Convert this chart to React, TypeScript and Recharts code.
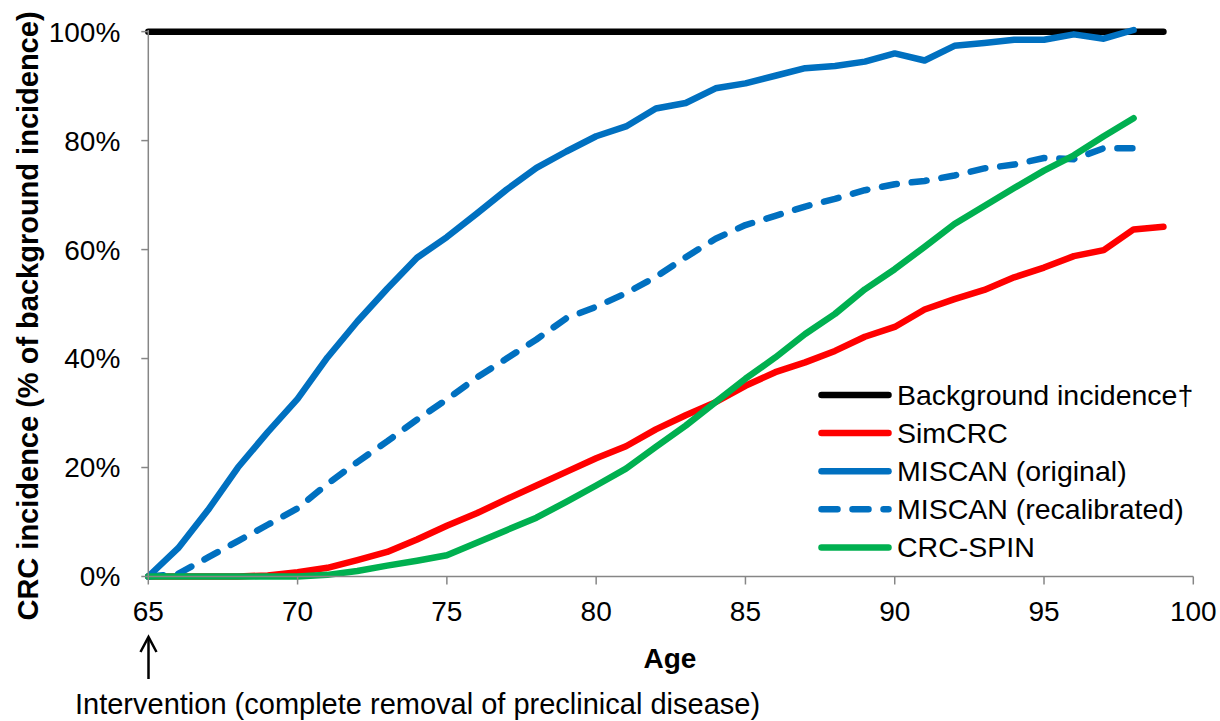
import React from 'react';
import { LineChart, Line, XAxis, YAxis } from 'recharts';

// Age (years) at which cumulative incidence is reported
const ages: number[] = [
  65, 66, 67, 68, 69, 70, 71, 72, 73, 74, 75, 76, 77, 78, 79, 80, 81, 82,
  83, 84, 85, 86, 87, 88, 89, 90, 91, 92, 93, 94, 95, 96, 97, 98, 99,
];

// CRC incidence as % of background incidence, one value per age (null = not reported)
const background: (number | null)[] = [
  100, 100, 100, 100, 100, 100, 100, 100, 100, 100, 100, 100, 100, 100, 100, 100, 100, 100,
  100, 100, 100, 100, 100, 100, 100, 100, 100, 100, 100, 100, 100, 100, 100, 100, 100,
];
const simCRC: (number | null)[] = [
  0, 0, 0, 0, 0.2, 0.8, 1.6, 3, 4.5, 6.8, 9.3, 11.6, 14.2, 16.7, 19.2, 21.7, 23.9, 27,
  29.6, 32, 35, 37.5, 39.3, 41.4, 44, 45.8, 49, 50.9, 52.6, 54.9, 56.7, 58.8, 59.9, 63.7, 64.2,
];
const miscanOriginal: (number | null)[] = [
  0, 5.2, 12.2, 20, 26.5, 32.6, 40.2, 46.8, 52.8, 58.5, 62.3, 66.6, 71, 75, 78, 80.8, 82.6, 85.9,
  86.9, 89.6, 90.5, 91.9, 93.3, 93.7, 94.5, 96, 94.7, 97.4, 97.9, 98.5, 98.5, 99.5, 98.7, 100.3, null,
];
const miscanRecalibrated: (number | null)[] = [
  0, 0.5, 3.5, 6.5, 9.5, 12.5, 17, 21, 24.8, 28.8, 32.5, 36.5, 40, 43.5, 47.4, 49.5, 52, 55,
  58.6, 62, 64.5, 66.2, 67.9, 69.3, 70.9, 72, 72.6, 73.6, 74.9, 75.6, 76.8, 76.6, 78.6, 78.6, null,
];
const crcSpin: (number | null)[] = [
  0, 0, 0, 0, 0, 0, 0.3, 1, 2, 2.9, 3.9, 6.2, 8.5, 10.8, 13.7, 16.7, 19.8, 23.8,
  27.7, 32, 36.3, 40.2, 44.5, 48.2, 52.7, 56.4, 60.5, 64.7, 68, 71.3, 74.5, 77.3, 80.8, 84.1, null,
];

const xTicks: number[] = [65, 70, 75, 80, 85, 90, 95, 100];
const yTicks: number[] = [0, 20, 40, 60, 80, 100];

const seriesNames: string[] = [
  'Background incidence†',
  'SimCRC',
  'MISCAN (original)',
  'MISCAN (recalibrated)',
  'CRC-SPIN',
];
const seriesKeys: string[] = ['background', 'simCRC', 'miscanOriginal', 'miscanRecalibrated', 'crcSpin'];
const seriesColors: string[] = ['#000000', '#FF0000', '#0070C0', '#0070C0', '#00B050'];
const seriesDashed: boolean[] = [false, false, false, true, false];

const rows = ages.map((age, i) => ({
  age,
  background: background[i],
  simCRC: simCRC[i],
  miscanOriginal: miscanOriginal[i],
  miscanRecalibrated: miscanRecalibrated[i],
  crcSpin: crcSpin[i],
}));

const FONT = '"Liberation Sans", Arial, sans-serif';
const AXIS_GRAY = '#868686';
const LINE_W = 6.5;
const DASH = '15 15';

export default function App() {
  return (
    <div
      style={{
        position: 'absolute',
        left: 0,
        top: 0,
        width: 1220,
        height: 721,
        background: '#ffffff',
        fontFamily: FONT,
      }}
    >
      <LineChart
        width={1220}
        height={721}
        data={rows}
        margin={{ top: 30, right: 26.7, bottom: 84.5, left: 0 }}
      >
        <XAxis
          dataKey="age"
          type="number"
          domain={[65, 100]}
          ticks={xTicks}
          height={60}
          axisLine={{ stroke: AXIS_GRAY, strokeWidth: 1.5 }}
          tickLine={{ stroke: AXIS_GRAY, strokeWidth: 1.5 }}
          tickSize={8}
          tickMargin={17}
          tick={{ fill: '#000', fontSize: 28, fontFamily: FONT }}
        />
        <YAxis
          type="number"
          domain={[0, 100]}
          ticks={yTicks}
          width={148.3}
          tickFormatter={(v: number) => `${v}%`}
          axisLine={{ stroke: AXIS_GRAY, strokeWidth: 1.5 }}
          tickLine={{ stroke: AXIS_GRAY, strokeWidth: 1.5 }}
          tickSize={7}
          tickMargin={21}
          tick={{ fill: '#000', fontSize: 28, fontFamily: FONT }}
        />
        {seriesKeys.map((key, i) => (
          <Line
            key={key}
            dataKey={key}
            name={seriesNames[i]}
            type="linear"
            stroke={seriesColors[i]}
            strokeWidth={LINE_W}
            strokeDasharray={seriesDashed[i] ? DASH : undefined}
            strokeLinecap="round"
            strokeLinejoin="round"
            dot={false}
            activeDot={false}
            isAnimationActive={false}
          />
        ))}
      </LineChart>

      <svg
        width={1220}
        height={721}
        style={{ position: 'absolute', left: 0, top: 0, pointerEvents: 'none' }}
      >
        {/* vertical axis title */}
        <text
          x={0}
          y={0}
          transform="translate(38,316) rotate(-90)"
          textAnchor="middle"
          fontFamily={FONT}
          fontWeight="bold"
          fontSize={29}
          fill="#000"
        >
          CRC incidence (% of background incidence)
        </text>

        {/* horizontal axis title */}
        <text x={670} y={668} textAnchor="middle" fontFamily={FONT} fontWeight="bold" fontSize={28} fill="#000">
          Age
        </text>

        {/* intervention marker */}
        <line x1={148.5} y1={637} x2={148.5} y2={679} stroke="#000" strokeWidth={2.5} />
        <polyline
          points="140.5,652 148.5,637 156.5,652"
          fill="none"
          stroke="#000"
          strokeWidth={2.5}
          strokeLinejoin="miter"
        />
        <text x={75} y={714} fontFamily={FONT} fontSize={29} fill="#000">
          Intervention (complete removal of preclinical disease)
        </text>

        {/* legend */}
        {seriesNames.map((name, i) => {
          const cy = 395 + i * 38.1;
          return (
            <g key={name}>
              <line
                x1={821.5}
                y1={cy}
                x2={888.5}
                y2={cy}
                stroke={seriesColors[i]}
                strokeWidth={LINE_W}
                strokeLinecap="round"
                strokeDasharray={seriesDashed[i] ? '16 15' : undefined}
              />
              <text x={897} y={cy + 10} fontFamily={FONT} fontSize={28.5} fill="#000">
                {name}
              </text>
            </g>
          );
        })}
      </svg>
    </div>
  );
}
